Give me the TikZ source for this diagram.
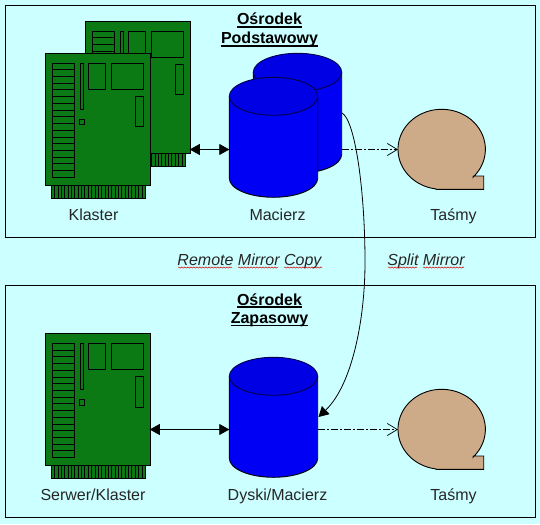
\documentclass[tikz,border=0pt]{standalone}
\usepackage{fontspec}
\setmainfont{Liberation Sans}
\usetikzlibrary{arrows.meta,decorations.pathmorphing}
\definecolor{bgc}{HTML}{CCFFFF}
\definecolor{cardg}{HTML}{0B7A14}
\definecolor{cylb}{HTML}{0000F5}
\definecolor{tapec}{HTML}{CDAB88}
\tikzset{
  frame/.style={draw=black,line width=1.2pt,fill=bgc},
  part/.style={draw=black,line width=0.9pt},
  lab/.style={font=\fontsize{16}{18}\selectfont,text=black!85,inner sep=0pt,anchor=base},
  head/.style={font=\fontsize{16}{18}\selectfont\bfseries,text=black,inner sep=0pt,anchor=base},
  ital/.style={font=\fontsize{16}{18}\selectfont\itshape,text=black!85,inner sep=0pt,anchor=base},
  uline/.style={line width=1.4pt},
  solidtip/.style={{Triangle[length=10pt,width=11pt]}-{Triangle[length=10pt,width=11pt]}},
  bk/.style={-{Straight Barb[length=10pt,width=12pt]},dash pattern=on 7pt off 2pt on 2pt off 2pt,line width=0.7pt},
  wavy/.style={draw=red!85!black,line width=0.5pt,decorate,decoration={snake,amplitude=0.6pt,segment length=3pt}},
}
% card: name, x, y (top-left of body)
\newcommand{\cardbox}[3]{%
 \begin{scope}[shift={(#2,#3)}]
  \fill[cardg] (6,132) rectangle (100,145);
  \foreach \i in {0,...,27}{\draw[line width=0.8pt] ({6+\i*94/28},132) -- ++(0,13);}
  \draw[part] (6,132) rectangle (100,145);
  \node[part,fill=cardg,minimum width=104.5pt,minimum height=132pt,inner sep=0pt,anchor=north west] (#1) at (0,0) {};
  \draw[part] (7,10) rectangle (29.5,124.3);
  \foreach \i in {1,...,16}{\draw[line width=0.8pt] (7,{10+\i*114.3/17}) -- (29.5,{10+\i*114.3/17});}
  \draw[part] (35,10) rectangle (38.4,56.3);
  \draw[part] (43,10) rectangle (60.4,36.3);
  \draw[part] (66,10) rectangle (98.4,36.3);
  \draw[part] (90,43.3) rectangle (98.4,73.7);
  \draw[part] (34,66.3) rectangle (39.4,71.7);
 \end{scope}}
% cylinder: name, x, y (left, top)
\newcommand{\cylbox}[3]{%
 \begin{scope}[shift={(#2,#3)}]
  \filldraw[part,fill=cylb] (0,19) -- (0,101) arc[x radius=44.2,y radius=19,start angle=180,end angle=0] -- (88.4,19) -- cycle;
  \filldraw[part,draw=black!70!blue,fill=cylb!93!black] (44.2,19) ellipse[x radius=44.2,y radius=19];
  \coordinate (#1) at (44.2,60);
 \end{scope}}
% tape: name, x, y (left, top)
\newcommand{\tapebox}[3]{%
 \begin{scope}[shift={(#2,#3)}]
  \filldraw[part,fill=tapec] (37.6,79.6) arc[x radius=43.7,y radius=40,start angle=98,end angle=404] -- (75.3,66.7) -- (85.7,66.7) -- (85.7,80) -- (38,80) -- cycle;
  \coordinate (#1) at (0,40);
 \end{scope}}
\begin{document}
\begin{tikzpicture}[x=1pt,y=-1pt]
\useasboundingbox (0,0) rectangle (540,524);
\fill[bgc] (0,0) rectangle (540,524);
\node[frame,minimum width=530pt,minimum height=232pt,inner sep=0pt,anchor=north west] (top) at (5,5) {};
\node[frame,minimum width=530pt,minimum height=232pt,inner sep=0pt,anchor=north west] (bot) at (5,285) {};
\cardbox{cb}{85.3}{21}
\cardbox{ca}{45.3}{53}
\cardbox{cc}{45.3}{333.3}
\cylbox{da}{253.3}{53.3}
\cylbox{db}{229.3}{77.3}
\cylbox{dc}{229.3}{357.3}
\tapebox{ta}{398}{109.3}
\tapebox{tb}{398}{389.3}
\coordinate (dbw) at (229.3,149.5);
\coordinate (cbe) at (189.8,149.5);
\coordinate (dcw) at (229.3,429.5);
\coordinate (cce) at (149.8,429.5);
\coordinate (dae) at (341.7,149.5);
\coordinate (dce) at (317.7,429.5);
\coordinate (tae) at (398,149.5);
\coordinate (tbe) at (398,429.5);
\coordinate (sa) at (342,113);
\coordinate (sm) at (365,262);
\coordinate (sb) at (318.5,417);
\draw[solidtip,line width=0.8pt] (cbe) -- (dbw);
\draw[solidtip,line width=0.8pt] (cce) -- (dcw);
\draw[bk] (dae) -- (tae);
\draw[bk] (dce) -- (tbe);
\draw[line width=0.8pt,-{Triangle[length=10pt,width=11pt]}] (sa) .. controls (355,120) and (365,190) .. (sm) .. controls (365,320) and (352,385) .. (sb);
\node[head] (h1a) at (269.5,25) {Ośrodek};
\node[head] (h1b) at (269.5,44) {Podstawowy};
\node[head] (h2a) at (269.5,305) {Ośrodek};
\node[head] (h2b) at (269.5,323.5) {Zapasowy};
\foreach \h in {h1a,h1b,h2a,h2b}{\draw[uline] ([yshift=-2pt]\h.base west) -- ([yshift=-2pt]\h.base east);}
\node[lab] (l1) at (93.5,220) {Klaster};
\node[lab] (l2) at (277.5,220) {Macierz};
\node[lab] (l3) at (453.5,220) {Taśmy};
\node[lab] (l4) at (93,500) {Serwer/Klaster};
\node[lab] (l5) at (277.5,500) {Dyski/Macierz};
\node[lab] (l6) at (453.5,500) {Taśmy};
\node[ital] (r1) at (249.5,265) {Remote Mirror Copy};
\node[ital] (r2) at (426,265) {Split Mirror};
\draw[wavy] (178,267.5) -- (232,267.5);
\draw[wavy] (238,267.5) -- (278,267.5);
\draw[wavy] (284,267.5) -- (322,267.5);
\draw[wavy] (388,267.5) -- (417,267.5);
\draw[wavy] (423,267.5) -- (464,267.5);
\end{tikzpicture}
\end{document}
